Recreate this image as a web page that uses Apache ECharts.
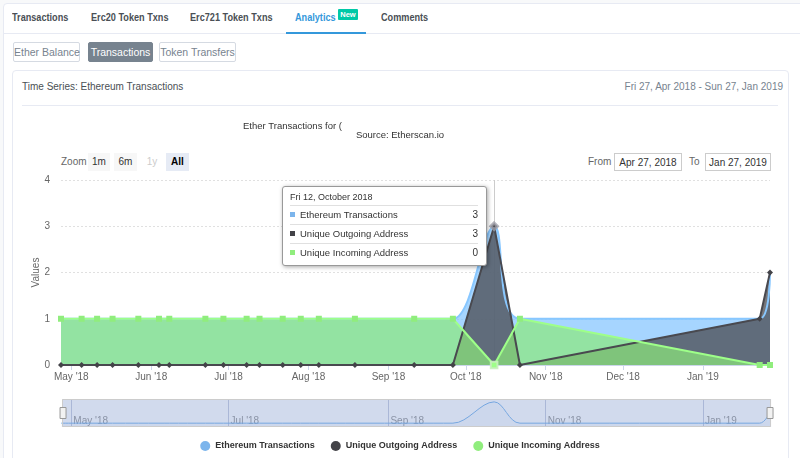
<!DOCTYPE html>
<html><head><meta charset="utf-8">
<script src="https://cdn.jsdelivr.net/npm/echarts@6/dist/echarts.min.js"></script>
<style>
html,body{margin:0;padding:0}
body{width:800px;height:458px;overflow:hidden;background:#f8f9fa;position:relative;font-family:'Liberation Sans',Arial,sans-serif}
.abs{position:absolute;white-space:nowrap}
#outer{left:3px;top:3px;width:805px;height:470px;background:#fff;border:1px solid #e7eaf3;border-radius:4px;box-sizing:border-box}
.tab{top:10px;font-size:11px;font-weight:bold;color:#4a4f55;line-height:14px;transform:scaleX(0.83);transform-origin:0 0}
.btn{top:42px;height:20px;line-height:18px;font-size:10.5px;color:#77838f;border:1px solid #d5dae2;border-radius:2px;box-sizing:border-box;text-align:center;background:#fff}
#card{left:12px;top:70px;width:777px;height:400px;border:1px solid #e7eaf3;border-radius:4px;box-sizing:border-box;background:#fff}
.rs{top:153px;height:18px;line-height:18px;font-size:10px;text-align:center;color:#333}
#chart{position:absolute;left:0;top:0;width:800px;height:458px;z-index:5}
</style></head>
<body>
<div id="outer" class="abs"></div>
<div class="abs tab" style="left:12px">Transactions</div>
<div class="abs tab" style="left:91px">Erc20 Token Txns</div>
<div class="abs tab" style="left:190px">Erc721 Token Txns</div>
<div class="abs tab" style="left:295px;color:#3498db">Analytics</div>
<div class="abs" style="left:338px;top:9px;width:20px;height:11px;background:#00c9a7;color:#fff;font-size:7.5px;font-weight:bold;line-height:11px;text-align:center;border-radius:1px">New</div>
<div class="abs tab" style="left:381px">Comments</div>
<div class="abs" style="left:4px;top:33px;width:800px;height:1px;background:#e7eaf3"></div>
<div class="abs" style="left:286px;top:32px;width:80px;height:2px;background:#3498db"></div>
<div class="abs btn" style="left:13px;width:67px">Ether Balance</div>
<div class="abs btn" style="left:88px;width:65px;background:#77838f;border-color:#77838f;color:#fff">Transactions</div>
<div class="abs btn" style="left:159px;width:77px">Token Transfers</div>
<div id="card" class="abs"></div>
<div class="abs" style="left:22px;top:81px;font-size:10px;color:#4a4f55">Time Series: Ethereum Transactions</div>
<div class="abs" style="right:17px;top:81px;font-size:10px;color:#77838f">Fri 27, Apr 2018 - Sun 27, Jan 2019</div>
<div class="abs" style="left:22px;top:105px;width:756px;height:1px;background:#e7eaf3"></div>
<div class="abs rs" style="left:61px;color:#666">Zoom</div>
<div class="abs rs" style="left:88px;width:22px;background:#f7f7f7">1m</div>
<div class="abs rs" style="left:114px;width:23px;background:#f7f7f7">6m</div>
<div class="abs rs" style="left:141px;width:22px;color:#ccc">1y</div>
<div class="abs rs" style="left:166px;width:23px;background:#e6ebf5;font-weight:bold;color:#000">All</div>
<div class="abs rs" style="left:588px;color:#666">From</div>
<div class="abs rs" style="left:614px;width:68px;border:1px solid #ccc;box-sizing:border-box">Apr 27, 2018</div>
<div class="abs rs" style="left:689px;color:#666">To</div>
<div class="abs rs" style="left:705px;width:66px;border:1px solid #ccc;box-sizing:border-box">Jan 27, 2019</div>
<div id="chart"></div>
<script>
// ---- data ----
const dates = ['2018-04-27','2018-05-05','2018-05-11','2018-05-17','2018-05-27','2018-06-04','2018-06-08','2018-06-22','2018-06-29','2018-07-08','2018-07-13','2018-07-22','2018-07-29','2018-08-05','2018-08-19','2018-09-11','2018-09-26','2018-10-12','2018-10-22','2019-01-23','2019-01-27'];
const ethTx    = [1,1,1,1,1,1,1,1,1,1,1,1,1,1,1,1,1,3,1,1,2];
const outgoing = [0,0,0,0,0,0,0,0,0,0,0,0,0,0,0,0,0,3,0,1,2];
const incoming = [1,1,1,1,1,1,1,1,1,1,1,1,1,1,1,1,1,0,1,0,0];
const seriesNames = ['Ethereum Transactions','Unique Outgoing Address','Unique Incoming Address'];
const monthTicks = ['2018-05-01','2018-06-01','2018-07-01','2018-08-01','2018-09-01','2018-10-01','2018-11-01','2018-12-01','2019-01-01'];
const navTicks = ['2018-05-01','2018-07-01','2018-09-01','2018-11-01','2019-01-01'];
const rangeStart = '2018-04-27', rangeEnd = '2019-01-27';
const tipDate = '2018-10-12';
const titleText = 'Ether Transactions for (';
const subText = 'Source: Etherscan.io';

const colors = ['#7cb5ec','#434348','#90ed7d'];
const areaColors = ['#7cb5ec','#434348','#7fd46f'];
const areaOpacity = [0.75,0.75,0.7];
const MON = ['Jan','Feb','Mar','Apr','May','Jun','Jul','Aug','Sep','Oct','Nov','Dec'];
const MONTH = ['January','February','March','April','May','June','July','August','September','October','November','December'];
const DAY = ['Sun','Mon','Tue','Wed','Thu','Fri','Sat'];
function ts(s){const p=s.split('-').map(Number);return Date.UTC(p[0],p[1]-1,p[2]);}
const pairs = arr => dates.map((d,i)=>[ts(d),arr[i]]);
function fmtMonth(v){const d=new Date(v);return MON[d.getUTCMonth()]+" '"+String(d.getUTCFullYear()).slice(2);}
const FONT = "'Liberation Sans',Arial,sans-serif";

const chart = echarts.init(document.getElementById('chart'), null, {renderer:'canvas'});
const areaSeries = (i, arr, extra) => Object.assign({
  name: seriesNames[i], type:'line', data: pairs(arr), xAxisIndex:0, yAxisIndex:0,
  color: colors[i], lineStyle:{width:2, color:colors[i]}, itemStyle:{color:colors[i]},
  areaStyle:{opacity:areaOpacity[i], color:areaColors[i]}, showAllSymbol:true
}, extra);

chart.setOption({
  animation:false,
  textStyle:{fontFamily:FONT},
  title:[
    {text:titleText, left:243, top:121, padding:0, textStyle:{fontSize:9.5, fontWeight:'normal', color:'#333', fontFamily:FONT}},
    {text:subText, left:'center', top:130, padding:0, textStyle:{fontSize:9.5, fontWeight:'normal', color:'#333', fontFamily:FONT}}
  ],
  legend:{data:seriesNames, left:'center', top:436, icon:'circle', itemWidth:10, itemHeight:10, itemGap:16,
    textStyle:{fontSize:9, color:'#333', fontWeight:'bold', fontFamily:FONT}},
  grid:[
    {left:61, right:30, top:180, height:185},
    {left:61, right:30, top:399, height:28}
  ],
  xAxis:[
    {type:'value', gridIndex:0, min:ts(rangeStart), max:ts(rangeEnd), scale:true,
     axisLine:{lineStyle:{color:'#ccd6eb'}},
     axisTick:{show:true, length:5, lineStyle:{color:'#ccd6eb'}, customValues:monthTicks.map(ts)},
     axisLabel:{customValues:monthTicks.map(ts), formatter:fmtMonth, color:'#666', fontSize:10, margin:7},
     splitLine:{show:false}},
    {type:'value', gridIndex:1, min:ts(rangeStart), max:ts(rangeEnd), scale:true,
     axisLine:{show:false}, axisTick:{show:false, customValues:navTicks.map(ts)},
     axisLabel:{inside:true, customValues:navTicks.map(ts), formatter:fmtMonth, color:'#999', fontSize:10, align:'left', margin:1, padding:[0,0,0,2]},
     splitLine:{show:true, lineStyle:{color:'#c8cde0'}}}
  ],
  yAxis:[
    {type:'value', gridIndex:0, min:0, max:4, interval:1, name:'Values', nameLocation:'middle', nameGap:20, nameMoveOverlap:false,
     nameTextStyle:{color:'#666', fontSize:10},
     axisLabel:{color:'#666', fontSize:10, margin:11},
     axisLine:{show:false}, axisTick:{show:false},
     splitLine:{lineStyle:{color:'#e0e0e0', type:[2,2]}}},
    {type:'value', gridIndex:1, min:0.64, max:3.27, show:false, splitLine:{show:false}}
  ],
  tooltip:{
    trigger:'axis', triggerOn:'none', alwaysShowContent:true,
    axisPointer:{type:'line', z:1, lineStyle:{color:'#ccc', width:1, type:'solid'}, label:{show:false}},
    position:[282,186],
    backgroundColor:'#fff', borderColor:'#999', borderWidth:1, padding:[5,8,3,7],
    extraCssText:'box-shadow:1px 1px 4px rgba(0,0,0,0.35);border-radius:3px;width:188px;line-height:normal;',
    formatter:function(params){
      const d=new Date(params[0].value[0]);
      let h='<div style="font-size:9px;color:#333;line-height:11px;height:11px;padding-bottom:2px;font-family:'+FONT+'">'+DAY[d.getUTCDay()]+' '+d.getUTCDate()+', '+MONTH[d.getUTCMonth()]+' '+d.getUTCFullYear()+'</div>';
      params.forEach(p=>{
        h+='<div style="border-top:1px solid #e0e0e0;height:18px;line-height:18px;font-size:9.5px;color:#333;font-family:'+FONT+';display:flex;justify-content:space-between;align-items:center"><span><span style="display:inline-block;width:5px;height:5px;background:'+p.color+';margin-right:5px;vertical-align:1px"></span>'+p.seriesName+'</span><span style="font-size:10px">'+p.value[1]+'</span></div>';
      });
      return h;
    }
  },
  dataZoom:[{
    type:'slider', xAxisIndex:0, filterMode:'none', left:61, right:30, top:399, height:28,
    start:0, end:100, showDataShadow:false, showDetail:false, brushSelect:false, moveHandleSize:0,
    backgroundColor:'rgba(0,0,0,0)', fillerColor:'rgba(102,133,194,0.3)', borderColor:'#cccccc',
    handleIcon:'path://M0,0 L6,0 L6,11 L0,11 Z', handleSize:11,
    handleStyle:{color:'#f2f2f2', borderColor:'#999', borderWidth:1},
    dataBackground:{lineStyle:{opacity:0}, areaStyle:{opacity:0}},
    selectedDataBackground:{lineStyle:{opacity:0}, areaStyle:{opacity:0}}
  }],
  series:[
    areaSeries(0, ethTx, {smooth:0.35, showSymbol:false, symbol:'none'}),
    areaSeries(1, outgoing, {symbol:'diamond', symbolSize:6, z:3,
      emphasis:{itemStyle:{borderColor:'rgba(160,160,170,0.8)', borderWidth:3}}}),
    areaSeries(2, incoming, {symbol:'rect', symbolSize:6,
      emphasis:{itemStyle:{borderColor:'rgba(200,240,190,0.9)', borderWidth:2}}}),
    {name:'nav', type:'line', xAxisIndex:1, yAxisIndex:1, data:pairs(ethTx), smooth:0.35, showSymbol:false, silent:true,
     lineStyle:{width:1, color:'#7cb5ec'}, areaStyle:{color:'#7cb5ec', opacity:0.05}, tooltip:{show:false}}
  ]
});
chart.dispatchAction({type:'showTip', seriesIndex:0, dataIndex:dates.indexOf(tipDate)});
</script>
</body></html>
